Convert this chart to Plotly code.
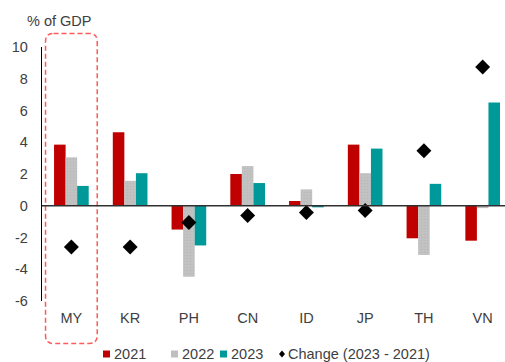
import plotly.graph_objects as go

# Current account balance by economy (% of GDP)
countries = ["MY", "KR", "PH", "CN", "ID", "JP", "TH", "VN"]
ca_2021 = [3.85, 4.63, -1.5, 2.0, 0.3, 3.85, -2.05, -2.2]
ca_2022 = [3.05, 1.57, -4.47, 2.5, 1.03, 2.05, -3.1, -0.15]
ca_2023 = [1.25, 2.05, -2.5, 1.43, -0.1, 3.6, 1.38, 6.5]
change_23_21 = [-2.6, -2.6, -1.05, -0.61, -0.42, -0.3, 3.46, 8.74]

series_names = ["2021", "2022", "2023", "Change (2023 - 2021)"]
bar_colors = ["#C00000", "#BEBEBE", "#009999"]
highlight = "MY"

y_ticks = [-6, -4, -2, 0, 2, 4, 6, 8, 10]
y_tick_text = ["-6", "-4", "-2", "0", "2", "4", "6", "8", "10"]

W, H = 505, 362
M_L, M_R, M_T, M_B = 42, 0, 47, 61
X_RANGE = [-0.5, 7.38]
Y_RANGE = [-6, 10]
FONT = "Liberation Sans, Arial, sans-serif"
FS = 14.5
TXT = "#404040"

pw = W - M_L - M_R
ph = H - M_T - M_B


def px_x(px):
    return (px - M_L) / pw


def px_y(py):
    return (H - M_B - py) / ph


fig = go.Figure()

fig.add_trace(go.Bar(x=countries, y=ca_2021, name=series_names[0],
                     marker=dict(color=bar_colors[0], line=dict(width=0))))
fig.add_trace(go.Bar(x=countries, y=ca_2022, name=series_names[1],
                     marker=dict(color=bar_colors[1], line=dict(width=0),
                                 pattern=dict(shape=".", size=3, solidity=0.25,
                                              fgcolor="#B0B0B0", bgcolor="#C2C2C2"))))
fig.add_trace(go.Bar(x=countries, y=ca_2023, name=series_names[2],
                     marker=dict(color=bar_colors[2], line=dict(width=0))))
fig.add_trace(go.Scatter(x=countries, y=change_23_21, name=series_names[3],
                         mode="markers",
                         marker=dict(symbol="diamond", size=11.5, color="black",
                                     line=dict(width=0))))

shapes = []

# Rounded dashed frame around the highlighted economy
idx = countries.index(highlight)
span = X_RANGE[1] - X_RANGE[0]
cx = (idx - X_RANGE[0]) / span
half_w = 0.44 / span
fx0, fx1 = cx - half_w, cx + half_w
fy0, fy1 = px_y(343.5), px_y(33.5)
rx, ry = 8 / pw, 8 / ph
path = (f"M{fx0 + rx},{fy1} L{fx1 - rx},{fy1} Q{fx1},{fy1} {fx1},{fy1 - ry} "
        f"L{fx1},{fy0 + ry} Q{fx1},{fy0} {fx1 - rx},{fy0} "
        f"L{fx0 + rx},{fy0} Q{fx0},{fy0} {fx0},{fy0 + ry} "
        f"L{fx0},{fy1 - ry} Q{fx0},{fy1} {fx0 + rx},{fy1} Z")
shapes.append(dict(type="path", xref="paper", yref="paper", path=path,
                   line=dict(color="#FF5A5A", width=1.5, dash="5px,3px"),
                   fillcolor="rgba(0,0,0,0)", layer="above"))

# Zero line across the plot
shapes.append(dict(type="line", xref="paper", yref="y", x0=0, x1=1, y0=0, y1=0,
                   line=dict(color="#303030", width=1.3), layer="above"))

# Legend drawn below the axis
annotations = []
leg_y = px_y(354)
leg_items = [(103, "sq", bar_colors[0], series_names[0]),
             (171, "sq", bar_colors[1], series_names[1]),
             (220, "sq", bar_colors[2], series_names[2]),
             (279, "dm", "black", series_names[3])]
for x_px, kind, col, label in leg_items:
    if kind == "sq":
        shapes.append(dict(type="rect", xref="paper", yref="paper",
                           x0=px_x(x_px), x1=px_x(x_px + 7),
                           y0=px_y(357.5), y1=px_y(350.5),
                           fillcolor=col, line=dict(width=0)))
        tx = x_px + 8.5
    else:
        c = x_px + 3
        shapes.append(dict(type="path", xref="paper", yref="paper",
                           path=(f"M{px_x(c)},{px_y(350.5)} L{px_x(c + 3)},{px_y(354)} "
                                 f"L{px_x(c)},{px_y(357.5)} L{px_x(c - 3)},{px_y(354)} Z"),
                           fillcolor=col, line=dict(width=0)))
        tx = x_px + 6.5
    annotations.append(dict(text=label, x=px_x(tx), y=leg_y, xref="paper", yref="paper",
                            xanchor="left", yanchor="middle", showarrow=False,
                            font=dict(family=FONT, size=FS, color=TXT)))

# Unit label above the value axis
annotations.append(dict(text="% of GDP", x=px_x(25), y=px_y(21), xref="paper", yref="paper",
                        xanchor="left", yanchor="middle", showarrow=False,
                        font=dict(family=FONT, size=FS, color=TXT)))

fig.update_layout(
    width=W, height=H,
    margin=dict(l=M_L, r=M_R, t=M_T, b=M_B, pad=0),
    paper_bgcolor="white", plot_bgcolor="white",
    barmode="group", bargap=0.41, bargroupgap=0,
    showlegend=False,
    font=dict(family=FONT, size=FS, color=TXT),
    shapes=shapes, annotations=annotations,
)
fig.update_xaxes(range=X_RANGE, showgrid=False, zeroline=False, showline=False,
                 ticks="", ticklabelstandoff=6,
                 tickfont=dict(family=FONT, size=FS, color=TXT))
fig.update_yaxes(range=Y_RANGE, tickvals=y_ticks, ticktext=y_tick_text,
                 showgrid=False, zeroline=False,
                 showline=True, linecolor="black", linewidth=1.3,
                 ticks="", ticklabelstandoff=10,
                 tickfont=dict(family=FONT, size=FS, color=TXT))

fig.write_html("out.html")
